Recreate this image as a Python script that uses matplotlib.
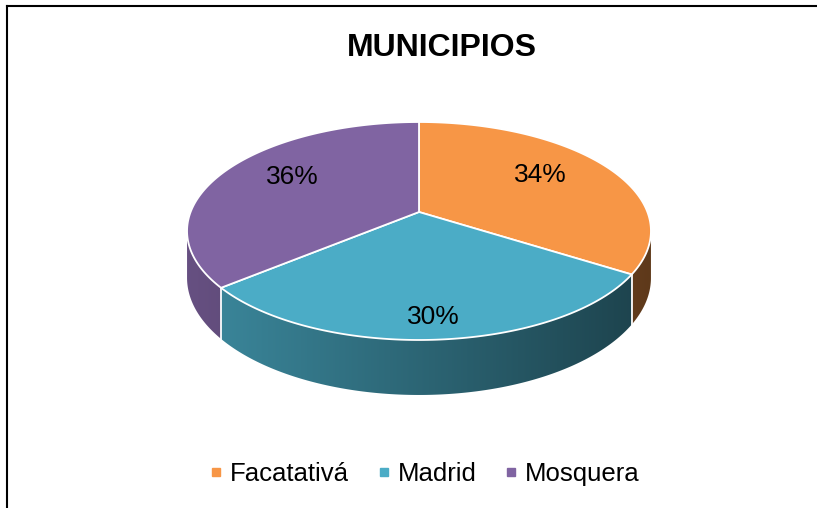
import numpy as np
import matplotlib
matplotlib.use('Agg')
from matplotlib import pyplot as plt
from matplotlib.patches import Polygon
from matplotlib.lines import Line2D

plt.rcParams['font.family'] = ['Liberation Sans', 'DejaVu Sans']

# data
municipios = ['Facatativá', 'Madrid', 'Mosquera']
porcentajes = [34, 30, 36]
colores = ['#F79646', '#4BACC6', '#8064A2']
titulo = 'MUNICIPIOS'

# layout of the 3d pie (pixel units, y down)
CX, CY = 419.0, 212.0     # projected centre of the top face
A, B = 228.4, 68.73       # horizontal / vertical radius factors
K = 0.1743                # perspective strength
H = 45.4                  # wall height
label_r = [0.64, 0.85, 0.64]
label_dy = [-6, 0, -8]


def project(r, theta, z=0.0):
    u = r * np.sin(theta)
    v = r * np.cos(theta)
    d = 1 + K * v
    return CX + A * u / d, (CY - B * v + H * z) / d


def shade(x):
    # light comes from the left: factor goes from 0.8 to 0.38 over the pie width
    t = (x - (CX - 232)) / 464.0
    return np.clip(0.8 - 0.42 * t, 0.3, 1.0)


fig = plt.figure(figsize=(8.17, 5.08), dpi=100)
ax = fig.add_axes([0, 0, 1, 1])

vals = np.array(porcentajes, dtype=float)
bounds = np.concatenate([[0], np.cumsum(vals) / vals.sum()]) * 2 * np.pi
vis0 = np.arccos(-K)
vis1 = 2 * np.pi - vis0

# side walls
for i, col in enumerate(colores):
    t0 = max(bounds[i], vis0)
    t1 = min(bounds[i + 1], vis1)
    if t1 <= t0:
        continue
    th = np.linspace(t0, t1, 200)
    xt, yt = project(1, th)
    xb, yb = project(1, th, 1)
    pts = np.column_stack([np.concatenate([xt, xb[::-1]]),
                           np.concatenate([yt, yb[::-1]])])
    clip = Polygon(pts, closed=True, facecolor='none', edgecolor='none')
    ax.add_patch(clip)
    xs = np.linspace(pts[:, 0].min(), pts[:, 0].max(), 300)
    base = np.array(matplotlib.colors.to_rgb(col))
    img = (shade(xs)[:, None] * base[None, :])[None, :, :]
    im = ax.imshow(img, extent=(xs[0], xs[-1], pts[:, 1].max(), pts[:, 1].min()),
                   aspect='auto', interpolation='bilinear', zorder=1)
    im.set_clip_path(clip)
    # white seam at the slice boundaries on the wall
    for tb in (bounds[i], bounds[i + 1]):
        if vis0 < tb < vis1:
            x0, y0 = project(1, tb)
            x1, y1 = project(1, tb, 1)
            ax.plot([x0, x1], [y0, y1], color='white', lw=1.2, alpha=0.8, zorder=1.5)

# top faces
for i, col in enumerate(colores):
    th = np.linspace(bounds[i], bounds[i + 1], 200)
    x, y = project(1, th)
    pts = np.column_stack([np.concatenate([[CX], x]), np.concatenate([[CY], y])])
    ax.add_patch(Polygon(pts, closed=True, facecolor=col, edgecolor='white',
                         lw=1.3, joinstyle='round', zorder=2))

# data labels
for i, p in enumerate(porcentajes):
    mid = (bounds[i] + bounds[i + 1]) / 2
    lx, ly = project(label_r[i], mid)
    ax.text(lx, ly + label_dy[i], f'{p}%', ha='center', va='center',
            fontsize=19, zorder=3)

# title
ax.text(442, 48, titulo, ha='center', va='center', fontsize=23, fontweight='bold')

# frame lines (top and left only visible)
ax.plot([7, 817], [6, 6], color='black', lw=1.5)
ax.plot([7, 7], [6, 508], color='black', lw=1.5)

handles = [Line2D([], [], marker='s', ls='none', color=c, markersize=6)
           for c in colores]
fig.legend(handles, municipios, loc='center', bbox_to_anchor=(424 / 817, 1 - 474 / 508),
           ncol=3, frameon=False, fontsize=18.5, handlelength=0.6,
           handletextpad=0.25, columnspacing=1.05)

ax.set_xlim(0, 817)
ax.set_ylim(508, 0)
ax.axis('off')

fig.savefig('out.png', dpi=100, facecolor='white')
